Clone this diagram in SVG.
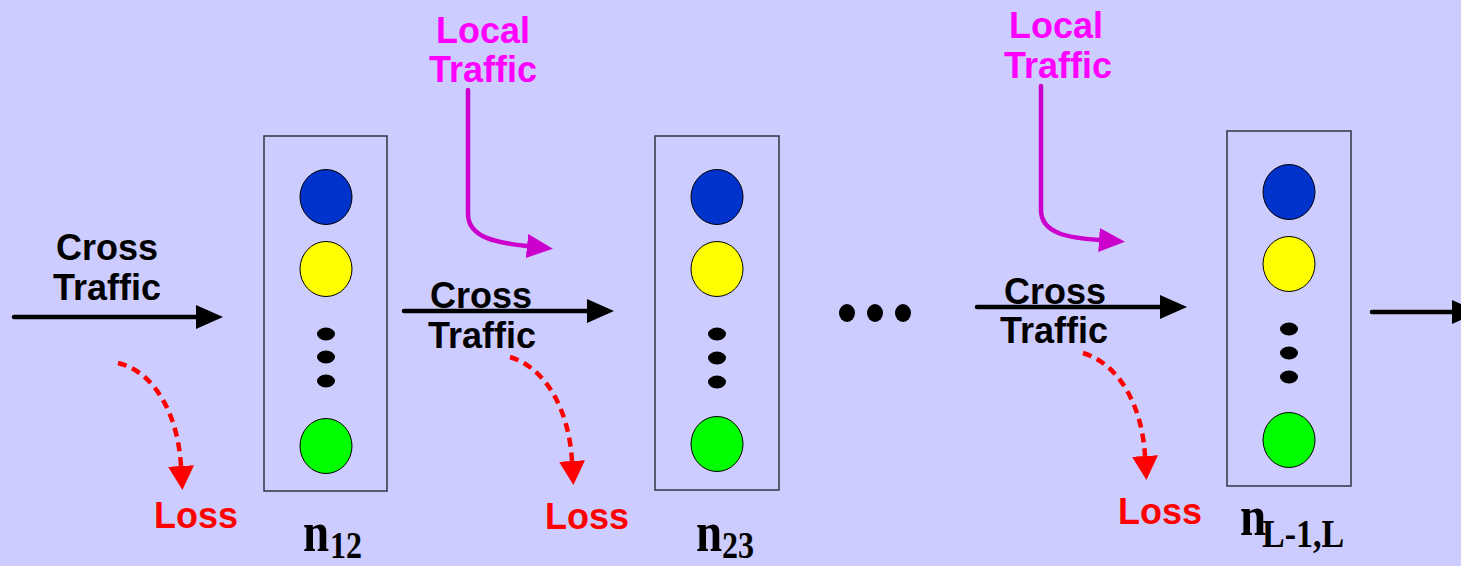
<svg xmlns="http://www.w3.org/2000/svg" width="1461" height="566" viewBox="0 0 1461 566">
<style>
.bg{fill:#CCCCFF}
.box{fill:none;stroke:#333344;stroke-width:1.5}
.cb{fill:#0033CC;stroke:#000;stroke-width:1}
.cy{fill:#FFFF00;stroke:#000;stroke-width:1}
.cg{fill:#00FF00;stroke:#000;stroke-width:1}
.dot{fill:#000}
.lbl{font-family:"Liberation Sans",Arial,sans-serif;font-weight:bold;font-size:36px;text-anchor:middle}
.blk{fill:#000}
.mag{fill:#FF00FF}
.red{fill:#FF0000}
.n{font-family:"Liberation Serif","Times New Roman",serif;font-weight:bold;font-size:47px;fill:#000}
.sub{font-family:"Liberation Serif","Times New Roman",serif;font-weight:bold;font-size:32px;fill:#000}
.ablk{fill:none;stroke:#000;stroke-width:4.5;stroke-linecap:round}
.amag{fill:none;stroke:#CC00CC;stroke-width:4.5;stroke-linecap:round}
.ared{fill:none;stroke:#FF0000;stroke-width:4.5;stroke-dasharray:9 6}
</style>
<defs>
<marker id="hb" markerUnits="userSpaceOnUse" viewBox="0 -15 30 30" markerWidth="30" markerHeight="30" refX="0" refY="0" orient="auto">
<path d="M0,-12 L27,0 L0,12 z" fill="#000"/>
</marker>
<marker id="hm" markerUnits="userSpaceOnUse" viewBox="0 -15 30 30" markerWidth="30" markerHeight="30" refX="0" refY="0" orient="auto">
<path d="M0,-12 L26,0 L0,12 z" fill="#CC00CC"/>
</marker>
<marker id="hr" markerUnits="userSpaceOnUse" viewBox="0 -15 30 30" markerWidth="30" markerHeight="30" refX="0" refY="0" orient="auto">
<path d="M0,-13 L24,0 L0,13 z" fill="#FF0000"/>
</marker>
</defs>
<rect class="bg" x="0" y="0" width="1461" height="566"/>

<g id="node-n12">
<rect class="box" x="264" y="136" width="123" height="355"/>
<ellipse class="cb" cx="326" cy="197" rx="26" ry="27.5"/>
<ellipse class="cy" cx="326" cy="269" rx="26" ry="27.5"/>
<ellipse class="dot" cx="326" cy="334" rx="9" ry="6.5"/>
<ellipse class="dot" cx="326" cy="357" rx="9" ry="6.5"/>
<ellipse class="dot" cx="326" cy="381" rx="9" ry="6.5"/>
<ellipse class="cg" cx="326" cy="446" rx="26" ry="27.5"/>
<g transform="translate(303,551) scale(1,1.2)"><text class="n" x="0" y="0">n</text><text class="sub" x="27" y="5.5">12</text></g>
</g>

<g id="node-n23">
<rect class="box" x="655" y="136" width="124" height="354"/>
<ellipse class="cb" cx="717" cy="197" rx="26" ry="27.5"/>
<ellipse class="cy" cx="717" cy="269" rx="26" ry="27.5"/>
<ellipse class="dot" cx="717" cy="334" rx="9" ry="6.5"/>
<ellipse class="dot" cx="717" cy="358" rx="9" ry="6.5"/>
<ellipse class="dot" cx="717" cy="382" rx="9" ry="6.5"/>
<ellipse class="cg" cx="717" cy="444" rx="26" ry="27.5"/>
<g transform="translate(696,551) scale(1,1.2)"><text class="n" x="0" y="0">n</text><text class="sub" x="26" y="5.5">23</text></g>
</g>

<g id="node-nL">
<rect class="box" x="1227" y="131" width="124" height="355"/>
<ellipse class="cb" cx="1289" cy="192" rx="26" ry="27.5"/>
<ellipse class="cy" cx="1289" cy="264" rx="26" ry="27.5"/>
<ellipse class="dot" cx="1289" cy="329" rx="9" ry="6.5"/>
<ellipse class="dot" cx="1289" cy="353" rx="9" ry="6.5"/>
<ellipse class="dot" cx="1289" cy="377" rx="9" ry="6.5"/>
<ellipse class="cg" cx="1289" cy="440" rx="26" ry="27.5"/>
<g transform="translate(1240,535) scale(1,1.2)"><text class="n" x="0" y="0">n</text><text class="sub" x="22" y="10" style="font-size:34px">L-1,L</text></g>
</g>

<g id="ellipsis">
<ellipse class="dot" cx="847" cy="313" rx="8" ry="9"/>
<ellipse class="dot" cx="875" cy="313" rx="8" ry="9"/>
<ellipse class="dot" cx="903" cy="313" rx="8" ry="9"/>
</g>

<g id="connectors">
<path class="ablk" d="M14,317 H196" marker-end="url(#hb)"/>
<path class="ablk" d="M404,311 H587" marker-end="url(#hb)"/>
<path class="ablk" d="M977,307 H1160" marker-end="url(#hb)"/>
<path class="ablk" d="M1372,312 H1452" marker-end="url(#hb)"/>
<path class="amag" d="M468,90 V214 C468,238 498,243 527,246" marker-end="url(#hm)"/>
<path class="amag" d="M1041,86 V210 C1041,234 1070,238 1099,240" marker-end="url(#hm)"/>
<path class="ared" d="M118,363 C155,372 178,415 181,466" marker-end="url(#hr)"/>
<path class="ared" d="M510,357 C546,368 569,410 572,461" marker-end="url(#hr)"/>
<path class="ared" d="M1083,353 C1119,364 1142,405 1145,456" marker-end="url(#hr)"/>
</g>

<g id="labels">
<text class="lbl blk" x="107" y="260">Cross</text>
<text class="lbl blk" x="107" y="300">Traffic</text>
<text class="lbl blk" x="481" y="308">Cross</text>
<text class="lbl blk" x="482" y="348">Traffic</text>
<text class="lbl blk" x="1055" y="304">Cross</text>
<text class="lbl blk" x="1054" y="343">Traffic</text>
<text class="lbl mag" x="483" y="43">Local</text>
<text class="lbl mag" x="483" y="82">Traffic</text>
<text class="lbl mag" x="1056" y="38">Local</text>
<text class="lbl mag" x="1058" y="78">Traffic</text>
<text class="lbl red" x="196" y="528">Loss</text>
<text class="lbl red" x="587" y="529">Loss</text>
<text class="lbl red" x="1160" y="524">Loss</text>
</g>
</svg>
